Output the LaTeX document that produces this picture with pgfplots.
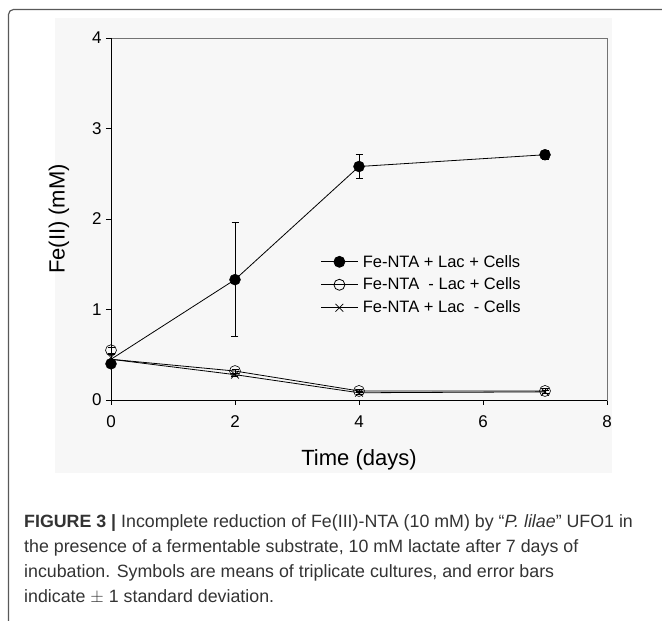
\documentclass[border=0pt]{standalone}
\usepackage{fontspec}
\setmainfont{Liberation Sans}
\usepackage{pgfplots}
\pgfplotsset{compat=1.18}

\begin{document}
\begin{tikzpicture}[x=1pt,y=1pt]
\useasboundingbox (0,0) rectangle (662,621);
\fill[black!3] (55,148) rectangle (612,603);
\draw[black!65, line width=1.2pt, rounded corners=5pt] (8.5,-5) -- (8.5,611.5) -- (667,611.5);
\begin{axis}[
  at={(111pt,221pt)}, anchor=south west,
  scale only axis, width=496pt, height=362pt,
  xmin=0, xmax=8, ymin=0, ymax=4,
  xtick={0,2,...,8}, ytick={0,1,...,4},
  tick pos=left, tick align=outside,
  major tick length=5pt,
  axis line style={black!55, line width=0.6pt},
  every tick/.style={black, line width=0.6pt},
  ticklabel style={font=\fontsize{17}{17}\selectfont},
  xticklabel style={yshift=-7pt},
  yticklabel style={xshift=-1pt},
  /pgf/number format/assume math mode=true,
  xlabel={Time (days)}, ylabel={Fe(II) (mM)},
  label style={font=\fontsize{22}{22}\selectfont},
  xlabel style={at={(axis description cs:0.5,-0.166)}, anchor=center},
  ylabel style={at={(axis description cs:-0.105,0.5)}, anchor=center},
  clip=false,
  legend cell align=left,
  legend style={draw=none, fill=none, at={(0.423,0.405)}, anchor=north west,
    font=\fontsize{16.5}{16.5}\selectfont, inner sep=0pt, row sep=6.5pt,
    nodes={inner xsep=4pt, inner ysep=1.5pt}},
  legend image code/.code={\draw[mark repeat=2,mark phase=2] plot coordinates {(0pt,0pt) (18pt,0pt) (37pt,0pt)};},
  error bars/error mark options={rotate=90, mark size=3.5pt, line width=0.6pt},
  error bars/error bar style={line width=0.6pt},
]
% axis frame: left and bottom darker
\draw[black, line width=0.7pt] (rel axis cs:0,1) -- (rel axis cs:0,0) -- (rel axis cs:1,0);
% connecting lines
\addplot[black, line width=0.8pt, no marks, forget plot] coordinates {(0,0.45) (2,1.33) (4,2.58) (7,2.71)};
\addplot[black, line width=0.8pt, no marks, forget plot] coordinates {(0,0.45) (2,0.32) (4,0.10) (7,0.10)};
\addplot[black, line width=0.8pt, no marks, forget plot] coordinates {(0,0.45) (2,0.28) (4,0.08) (7,0.09)};
% symbols with error bars
\addplot[only marks, mark=*, mark size=5.5pt, black, forget plot,
  error bars/.cd, y dir=both, y explicit] coordinates {
  (0,0.40) +- (0,0.02)
  (2,1.33) +- (0,0.63)
  (4,2.58) +- (0,0.13)
  (7,2.71) +- (0,0.05)
};
\addplot[only marks, mark=o, mark size=5.5pt, black, mark options={fill=white, line width=0.6pt}, forget plot,
  error bars/.cd, y dir=both, y explicit] coordinates {
  (0,0.55) +- (0,0.03)
  (2,0.32) +- (0,0.02)
  (4,0.10) +- (0,0.02)
  (7,0.10) +- (0,0.03)
};
\addplot[only marks, mark=x, mark size=5.5pt, black, mark options={line width=0.6pt}, forget plot,
  error bars/.cd, y dir=both, y explicit] coordinates {
  (0,0.47) +- (0,0.03)
  (2,0.28) +- (0,0.02)
  (4,0.08) +- (0,0.02)
  (7,0.09) +- (0,0.02)
};
\addlegendimage{black, line width=0.8pt, mark=*, mark size=5.5pt}
\addlegendentry{Fe-NTA + Lac + Cells}
\addlegendimage{black, line width=0.8pt, mark=o, mark size=5.5pt, mark options={fill=white}}
\addlegendentry{Fe-NTA \ - Lac + Cells}
\addlegendimage{black, line width=0.8pt, mark=x, mark size=5.5pt}
\addlegendentry{Fe-NTA + Lac \ - Cells}
\end{axis}
\node[anchor=base west, inner sep=0pt, align=left, text=black!80,
  font=\fontsize{17.8}{25}\selectfont] at (24,18)
  {\textbf{FIGURE 3 |} Incomplete reduction of Fe(III)-NTA (10 mM) by “\textit{P. lilae}” UFO1 in\\
   the presence of a fermentable substrate, 10 mM lactate after 7 days of\\
   incubation. Symbols are means of triplicate cultures, and error bars\\
   indicate $\pm$ 1 standard deviation.};
\end{tikzpicture}
\end{document}
